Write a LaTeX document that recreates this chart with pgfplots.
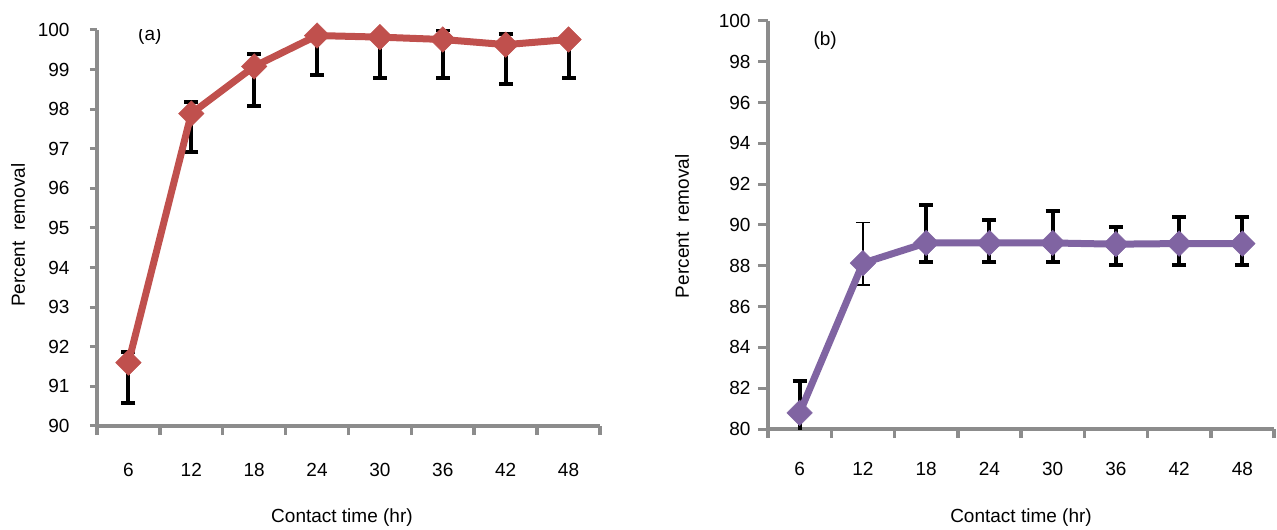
\documentclass[border=0pt]{standalone}
\usepackage{fontspec}
\setmainfont{Liberation Sans}
\usepackage{pgfplots}
\pgfplotsset{compat=1.18}
\definecolor{axgray}{RGB}{140,140,140}
\definecolor{redA}{RGB}{192,80,77}
\definecolor{purpB}{RGB}{128,100,162}
\newcommand{\fs}{\fontsize{19pt}{22pt}\selectfont}
\pgfplotsset{
  panel/.style={
    scale only axis,
    axis x line*=bottom, axis y line*=left,
    axis line style={draw=axgray, line width=3.5pt},
    xmin=0.5, xmax=8.5,
    xtick={1,...,8},
    xticklabels={6,12,18,24,30,36,42,48},
    minor xtick={0.5,1.5,...,8.5},
    tick align=outside,
    major x tick style={draw=none},
    minor x tick style={draw=axgray, line width=3.5pt},
    minor tick length=9pt,
    major tick length=7pt,
    y tick style={draw=axgray, line width=3pt},
    tick label style={font=\fs},
    label style={font=\fs},
    /pgf/number format/assume math mode=true,
    clip=true,
  },
  ebar/.style={draw=none, mark=none, forget plot,
    error bars/.cd, y dir=both, y explicit,
    error bar style={black, line width=4pt},
    error mark options={black, line width=4pt, mark size=7pt, rotate=90}},
}
\begin{document}
\begin{tikzpicture}[x=1pt,y=1pt]
\useasboundingbox (0,0) rectangle (1277,530);
% ---------- panel (a)
\begin{axis}[panel,
  at={(97pt,104pt)}, anchor=south west,
  width=503pt, height=396pt,
  ymin=90, ymax=100, ytick={90,...,100},
  yticklabel style={anchor=east, xshift=-17pt},
  xticklabel style={anchor=center, yshift=-37pt},
  xlabel={Contact time (hr)},
  xlabel style={at={(axis description cs:0.487,-0.232)}, anchor=center},
  ylabel={Percent~ removal},
  ylabel style={at={(axis description cs:-0.157,0.482)}, anchor=center},
]
\addplot[ebar] coordinates {
 (1,91.60) += (0,0.28) -= (0,1.02)
 (2,97.89) += (0,0.28) -= (0,0.96)
 (3,99.08) += (0,0.31) -= (0,1.01)
 (4,99.86) += (0,0.24) -= (0,0.99)
 (5,99.82) += (0,0.05) -= (0,1.04)
 (6,99.76) += (0,0.23) -= (0,0.98)
 (7,99.63) += (0,0.28) -= (0,1.00)
 (8,99.76) += (0,0.32) -= (0,0.98)
};
\addplot[redA, line width=7pt, mark=square*, mark size=9pt,
  mark options={rotate=45, fill=redA, draw=redA, line width=0.5pt}] coordinates {
 (1,91.60) (2,97.89) (3,99.08) (4,99.86) (5,99.82) (6,99.76) (7,99.63) (8,99.76)
};
\node[font=\fs] at (axis description cs:0.105,0.985) {(a)};
\end{axis}
% ---------- panel (b)
\begin{axis}[panel,
  at={(768pt,101pt)}, anchor=south west,
  width=506pt, height=408pt,
  ymin=80, ymax=100, ytick={80,82,...,100},
  major tick length=10pt,
  yticklabel style={anchor=east, xshift=-4pt},
  xticklabel style={anchor=center, yshift=-30pt},
  xlabel={Contact time (hr)},
  xlabel style={at={(axis description cs:0.5,-0.218)}, anchor=center},
  ylabel={Percent~ removal},
  ylabel style={at={(axis description cs:-0.170,0.497)}, anchor=center},
]
\addplot[ebar] coordinates {
 (1,80.79) += (0,1.56) -= (0,1.0)
 (3,89.12) += (0,1.87) -= (0,0.94)
 (4,89.12) += (0,1.13) -= (0,0.94)
 (5,89.12) += (0,1.59) -= (0,0.94)
 (6,89.06) += (0,0.82) -= (0,1.04)
 (7,89.09) += (0,1.32) -= (0,1.04)
 (8,89.09) += (0,1.32) -= (0,1.04)
};
\addplot[draw=none, mark=none, forget plot,
  error bars/.cd, y dir=both, y explicit,
  error bar style={black, line width=1.3pt},
  error mark options={black, line width=1.3pt, mark size=7pt, rotate=90}] coordinates {
 (2,88.13) += (0,1.99) -= (0,1.07)
};
\addplot[purpB, line width=7pt, mark=square*, mark size=9pt,
  mark options={rotate=45, fill=purpB, draw=purpB, line width=0.5pt}] coordinates {
 (1,80.79) (2,88.13) (3,89.12) (4,89.12) (5,89.12) (6,89.06) (7,89.09) (8,89.09)
};
\node[font=\fs] at (axis description cs:0.113,0.953) {(b)};
\end{axis}
\end{tikzpicture}
\end{document}
